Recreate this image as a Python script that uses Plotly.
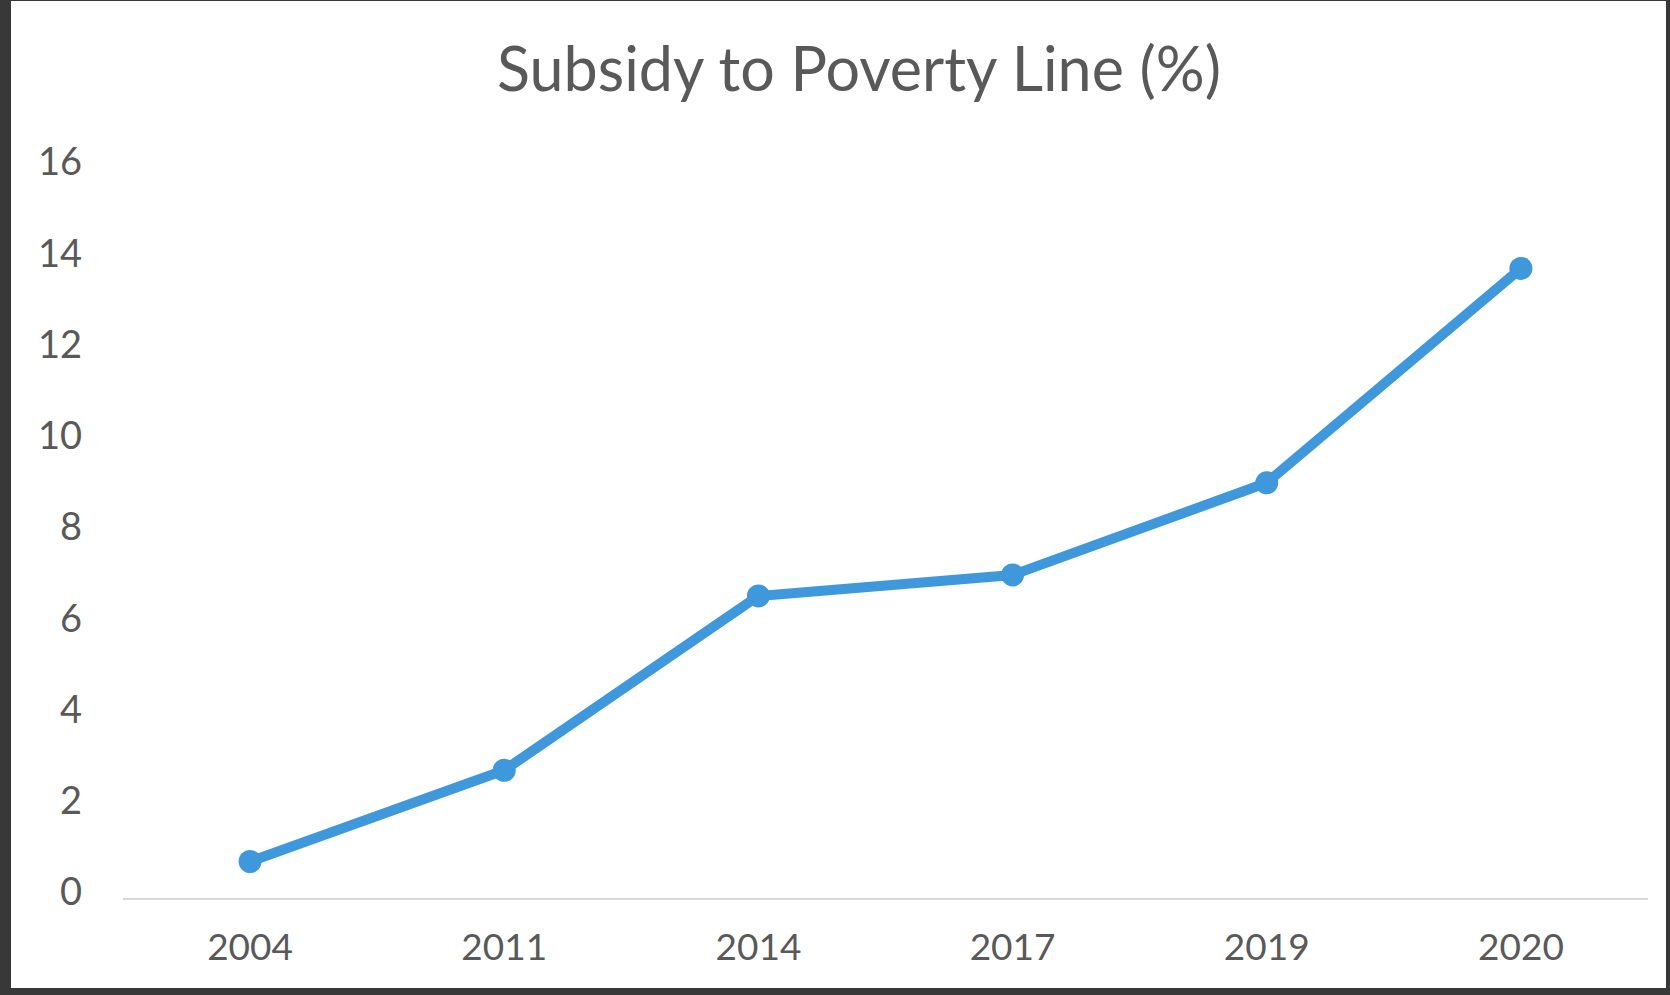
import plotly.graph_objects as go

years = ["2004", "2011", "2014", "2017", "2019", "2020"]
subsidy_pct = [0.8, 2.8, 6.62, 7.08, 9.1, 13.8]
y_ticks = [0, 2, 4, 6, 8, 10, 12, 14, 16]
title_text = "Subsidy to Poverty Line (%)"

W, H = 1670, 995
L, R, T, B = 123, 1648, 168, 898  # plot area pixels

def px_to_paper_x(px):
    return (px - L) / (R - L)

def px_to_paper_y(py):
    return (B - py) / (B - T)

fig = go.Figure()
fig.add_trace(go.Scatter(
    x=years, y=subsidy_pct, mode="lines+markers",
    line=dict(color="#3F97DC", width=10),
    marker=dict(color="#3F97DC", size=23),
    showlegend=False, hoverinfo="x+y",
))

fig.add_shape(type="rect", xref="paper", yref="paper",
              x0=px_to_paper_x(11), x1=px_to_paper_x(1666),
              y0=px_to_paper_y(988), y1=px_to_paper_y(1),
              fillcolor="white", line=dict(width=0), layer="below")

fig.update_layout(
    width=W, height=H,
    margin=dict(l=L, r=W - R, t=T, b=H - B, pad=0),
    paper_bgcolor="#383838", plot_bgcolor="white",
    font=dict(family="Lato", color="#595959"),
    title=dict(text=title_text, x=859 / W, xanchor="center",
               y=1 - 70 / H, yanchor="middle",
               font=dict(family="Lato", size=61, color="#595959")),
    xaxis=dict(type="category", range=[-0.5, 5.5], showgrid=False,
               showline=True, linecolor="#D9D9D9", linewidth=2,
               ticks="", tickfont=dict(size=37, color="#595959"),
               ticklabelstandoff=16, zeroline=False, fixedrange=True),
    yaxis=dict(range=[0, 16], tickvals=y_ticks, showgrid=False,
               zeroline=False, showline=False, ticks="",
               tickfont=dict(size=38, color="#595959"),
               ticklabelstandoff=40, ticklabelshift=-6, fixedrange=True),
)

fig.write_html("out.html")
